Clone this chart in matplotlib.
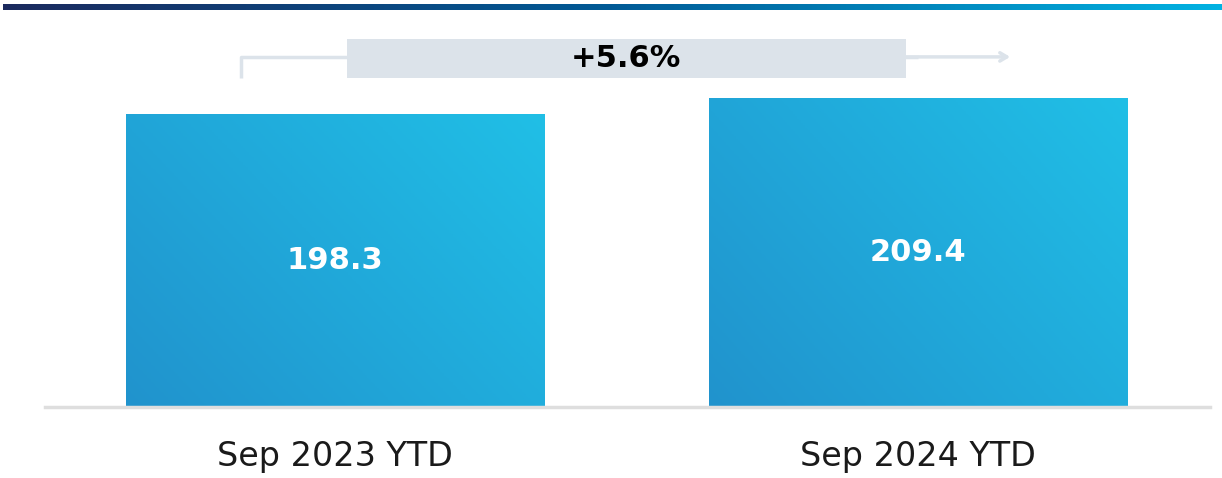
import numpy as np
import matplotlib.pyplot as plt
from matplotlib.colors import LinearSegmentedColormap
from matplotlib.patches import Rectangle

categories = ['Sep 2023 YTD', 'Sep 2024 YTD']
values = [198.3, 209.4]

change = (values[1] / values[0] - 1) * 100

fig = plt.figure(figsize=(12.22, 4.78), dpi=100)

# top gradient strip
strip = fig.add_axes([3 / 1222, 1 - 10 / 478, 1 - 3 / 1222, 6 / 478])
strip_cmap = LinearSegmentedColormap.from_list('strip', ['#1b2a5e', '#005a96', '#00b2e2'])
strip.imshow(np.linspace(0, 1, 256)[None, :], aspect='auto', cmap=strip_cmap)
strip.axis('off')

ax = fig.add_axes([45 / 1222, 71 / 478, 1165 / 1222, 387 / 478])

bar_cmap = LinearSegmentedColormap.from_list('bar', ['#2193cd', '#20a9da', '#20bfe6'])
xx, yy = np.meshgrid(np.linspace(0, 1, 200), np.linspace(0, 1, 200))
grad = (xx * 0.6 + yy * 0.4)

width = 0.717
bars = ax.bar(range(len(values)), values, width=width, color='none', edgecolor='none')
for b, v in zip(bars, values):
    x0 = b.get_x()
    im = ax.imshow(grad, extent=[x0, x0 + width, 0, v], origin='lower',
                   cmap=bar_cmap, aspect='auto', zorder=2)
    im.set_clip_path(b)
    ax.text(b.get_x() + width / 2, v / 2, f'{v:.1f}', ha='center', va='center',
            color='white', fontsize=22, fontweight='bold', zorder=3)

ax.set_xlim(-0.497, 1.501)
ax.set_ylim(0, 262.2)

ax.axhline(0, color='#dedede', linewidth=2.5, zorder=4, clip_on=False)

# change bracket
gray = '#dce3ea'
ax.plot([-0.161, -0.161, 1.0], [223, 237.2, 237.2], color=gray, linewidth=2.5,
        solid_capstyle='butt', zorder=1)
ax.annotate('', xy=(1.163, 237.2), xytext=(0.95, 237.2),
            arrowprops=dict(arrowstyle='->,head_length=0.5,head_width=0.3',
                            color=gray, linewidth=2.5))
ax.add_patch(Rectangle((0.0206, 223), 0.979 - 0.0206, 26.4, facecolor=gray,
                       edgecolor='none', zorder=2))
ax.text(0.499, 236.2, f'+{change:.1f}%', ha='center', va='center',
        fontsize=22, fontweight='bold', color='black', zorder=3)

ax.set_xticks(range(len(categories)))
ax.set_xticklabels(categories, fontsize=24, color='#1a1a1a')
ax.tick_params(axis='x', length=0, pad=24)
ax.set_yticks([])
for s in ax.spines.values():
    s.set_visible(False)

fig.savefig('out.png', dpi=100)
